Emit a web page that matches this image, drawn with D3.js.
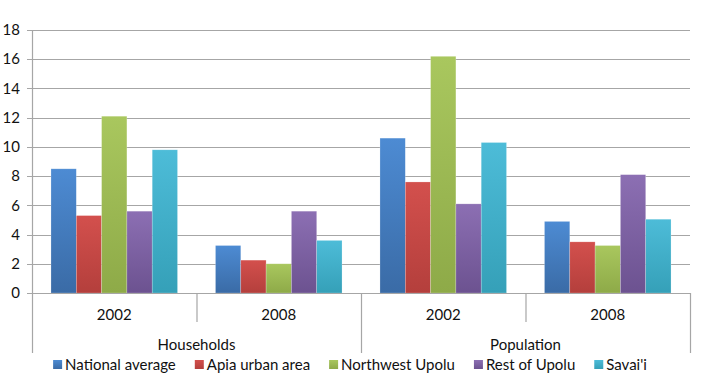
<!DOCTYPE html>
<html>
<head>
<meta charset="utf-8">
<script src="https://cdn.jsdelivr.net/npm/d3@7"></script>
<style>
  body { margin: 0; background: #fff; }
  svg text { font-family: Lato, "Open Sans", sans-serif; fill: #111; }
</style>
</head>
<body>
<div id="chart"></div>
<script>
const categories = ["Households", "Population"];
const years = ["2002", "2008"];
const seriesNames = ["National average", "Apia urban area", "Northwest Upolu", "Rest of Upolu", "Savai'i"];
// values per series, in order: Households 2002, Households 2008, Population 2002, Population 2008
const nationalAvg = [8.5, 3.25, 10.6, 4.9];
const apiaUrban = [5.3, 2.25, 7.6, 3.5];
const northwestUpolu = [12.1, 2.0, 16.2, 3.25];
const restOfUpolu = [5.6, 5.6, 6.1, 8.1];
const savaii = [9.8, 3.6, 10.3, 5.05];
const yTicks = [0, 2, 4, 6, 8, 10, 12, 14, 16, 18];

const seriesValues = [nationalAvg, apiaUrban, northwestUpolu, restOfUpolu, savaii];
const colors = [
  ["#4d8bd3", "#3a6ba6"],
  ["#d3504d", "#b43f3c"],
  ["#a9c75e", "#8eaa48"],
  ["#8c6fb3", "#6c5290"],
  ["#4dbcd8", "#35a0b8"]
];

const W = 704, H = 376;
const plot = {left: 32, right: 690, top: 30, bottom: 293};
const fontSize = "15px";

const svg = d3.select("#chart").append("svg")
  .attr("width", W).attr("height", H);

const defs = svg.append("defs");
colors.forEach((c, i) => {
  const g = defs.append("linearGradient")
    .attr("id", "grad" + i)
    .attr("x1", 0).attr("y1", 0).attr("x2", 0).attr("y2", 1);
  g.append("stop").attr("offset", "0%").attr("stop-color", c[0]);
  g.append("stop").attr("offset", "100%").attr("stop-color", c[1]);
});

const groupKeys = [];
categories.forEach(c => years.forEach(y => groupKeys.push(c + "|" + y)));

const x0 = d3.scaleBand().domain(groupKeys).range([plot.left, plot.right]).padding(0);
const x1 = d3.scaleBand().domain(d3.range(seriesNames.length))
  .range([0, x0.bandwidth()]).paddingInner(0).paddingOuter(0.75);
const y = d3.scaleLinear().domain([0, 18]).range([plot.bottom, plot.top]);

// gridlines
svg.append("g")
  .selectAll("line")
  .data(yTicks)
  .join("line")
  .attr("x1", plot.left - 5).attr("x2", plot.right)
  .attr("y1", d => Math.round(y(d)) + 0.5).attr("y2", d => Math.round(y(d)) + 0.5)
  .attr("stroke", "#a6a6a6").attr("stroke-width", 1.2);

// y tick labels
svg.append("g")
  .selectAll("text")
  .data(yTicks)
  .join("text")
  .attr("x", 20).attr("y", d => y(d))
  .attr("dy", "0.35em")
  .attr("text-anchor", "end")
  .style("font-size", fontSize)
  .text(d => d);

// bars
const groupsData = groupKeys.map((k, gi) => ({
  key: k,
  vals: seriesValues.map((s, si) => ({ si, v: s[gi] }))
}));

svg.append("g")
  .selectAll("g")
  .data(groupsData)
  .join("g")
  .attr("transform", d => `translate(${x0(d.key)},0)`)
  .selectAll("rect")
  .data(d => d.vals)
  .join("rect")
  .attr("x", d => x1(d.si))
  .attr("y", d => y(d.v))
  .attr("width", x1.bandwidth())
  .attr("height", d => y(0) - y(d.v))
  .attr("fill", d => `url(#grad${d.si})`)
  .attr("stroke", "rgba(255,255,255,0.35)")
  .attr("stroke-width", 0.6);

// axes lines
const axisG = svg.append("g").attr("stroke", "#a6a6a6").attr("stroke-width", 1.2);
axisG.append("line").attr("x1", plot.left).attr("x2", plot.right).attr("y1", plot.bottom + 0.5).attr("y2", plot.bottom + 0.5);
axisG.append("line").attr("x1", plot.left + 0.5).attr("x2", plot.left + 0.5).attr("y1", plot.top).attr("y2", 353);
// separators between years inside a category
categories.forEach(c => {
  const xs = x0(c + "|" + years[1]);
  axisG.append("line").attr("x1", xs + 0.5).attr("x2", xs + 0.5).attr("y1", plot.bottom).attr("y2", 322);
});
// separators between categories and at the right edge
[x0(categories[1] + "|" + years[0]), plot.right].forEach(xs => {
  axisG.append("line").attr("x1", xs + 0.5).attr("x2", xs + 0.5).attr("y1", plot.bottom).attr("y2", 353);
});

// year labels
svg.append("g")
  .selectAll("text")
  .data(groupKeys)
  .join("text")
  .attr("x", d => x0(d) + x0.bandwidth() / 2)
  .attr("y", 315)
  .attr("dy", "0.35em")
  .attr("text-anchor", "middle")
  .style("font-size", fontSize)
  .text(d => d.split("|")[1]);

// category labels
svg.append("g")
  .selectAll("text")
  .data(categories)
  .join("text")
  .attr("x", c => (x0(c + "|" + years[0]) + x0(c + "|" + years[1]) + x0.bandwidth()) / 2)
  .attr("y", 345)
  .attr("dy", "0.35em")
  .attr("text-anchor", "middle")
  .style("font-size", fontSize)
  .text(c => c);

// legend
const legend = svg.append("g");
let lx = 0;
seriesNames.forEach((name, i) => {
  const item = legend.append("g").attr("transform", `translate(${lx},0)`);
  item.append("rect")
    .attr("x", 0).attr("y", -5)
    .attr("width", 9).attr("height", 9)
    .attr("fill", `url(#grad${i})`);
  const t = item.append("text")
    .attr("x", 12).attr("y", 0)
    .attr("dy", "0.35em")
    .style("font-size", fontSize)
    .text(name);
  lx += 12 + t.node().getComputedTextLength() + 19;
});
const legendW = lx - 19;
legend.attr("transform", `translate(${350 - legendW / 2},365)`);
</script>
</body>
</html>
